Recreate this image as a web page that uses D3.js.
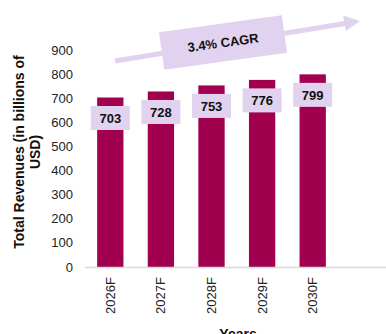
<!DOCTYPE html>
<html>
<head>
<meta charset="utf-8">
<script src="https://cdn.jsdelivr.net/npm/d3@7"></script>
<style>
  html, body { margin: 0; padding: 0; background: #fff; }
  svg { display: block; font-family: "Liberation Sans", Arial, sans-serif; }
</style>
</head>
<body>
<svg id="chart" width="386" height="334"></svg>
<script>
// Forecast revenue by year
const years = ["2026F", "2027F", "2028F", "2029F", "2030F"];
const revenues = [703, 728, 753, 776, 799];
const yTicks = [0, 100, 200, 300, 400, 500, 600, 700, 800, 900];
const cagrLabel = "3.4% CAGR";
const yTitleLines = ["Total Revenues (in billions of", "USD)"];
const xTitle = "Years";

const barColor = "#A1004F";
const tagColor = "#E1D2EF";

const svg = d3.select("#chart");

const x = d3.scaleBand().domain(years).range([85, 338]).paddingInner(0.48).paddingOuter(0.24);
const y = d3.scaleLinear().domain([0, 900]).range([267, 50]);

// y tick labels
svg.append("g").selectAll("text").data(yTicks).join("text")
  .attr("x", 73).attr("y", d => y(d)).attr("dy", "0.35em")
  .attr("text-anchor", "end").attr("font-size", 13).attr("fill", "#222")
  .text(d => d);

// bars
svg.append("g").selectAll("rect").data(revenues).join("rect")
  .attr("x", (d, i) => x(years[i])).attr("width", x.bandwidth())
  .attr("y", d => y(d)).attr("height", d => y(0) - y(d))
  .attr("fill", barColor);

// baseline
svg.append("line").attr("x1", 85).attr("x2", 386).attr("y1", y(0) + 0.5).attr("y2", y(0) + 0.5)
  .attr("stroke", "#d9d9d9").attr("stroke-width", 1.5);

// value tags
const tags = svg.append("g").selectAll("g").data(revenues).join("g")
  .attr("transform", (d, i) => `translate(${x(years[i]) + x.bandwidth() / 2},${y(d) + 8.5})`);
tags.append("rect").attr("x", -19.5).attr("y", 0).attr("width", 39).attr("height", 24).attr("fill", tagColor);
tags.append("text").attr("y", 12).attr("dy", "0.36em").attr("text-anchor", "middle")
  .attr("font-size", 13).attr("font-weight", "bold").attr("fill", "#111").text(d => d);

// x tick labels (rotated)
svg.append("g").selectAll("text").data(years).join("text")
  .attr("transform", d => `translate(${x(d) + x.bandwidth() / 2 + 4.5},277) rotate(-90)`)
  .attr("text-anchor", "end").attr("font-size", 13).attr("fill", "#222")
  .text(d => d);

// axis titles
svg.append("text").attr("transform", "translate(24,152) rotate(-90)")
  .attr("text-anchor", "middle").attr("font-size", 14).attr("font-weight", "bold").attr("fill", "#111")
  .selectAll("tspan").data(yTitleLines).join("tspan")
  .attr("x", 0).attr("dy", (d, i) => i === 0 ? 0 : 15.5).text(d => d);

svg.append("text").attr("x", 238).attr("y", 339).attr("text-anchor", "middle")
  .attr("font-size", 14).attr("font-weight", "bold").attr("fill", "#111").text(xTitle);

// CAGR arrow
const a0 = [115, 61], a1 = [345, 23.5];
svg.append("line").attr("x1", a0[0]).attr("y1", a0[1]).attr("x2", a1[0]).attr("y2", a1[1])
  .attr("stroke", tagColor).attr("stroke-width", 5);
svg.append("path").attr("d", "M343,15.5 L360,21 L346,31 Z").attr("fill", tagColor);

const cagr = svg.append("g").attr("transform", "translate(223,42.5) rotate(-7.9)");
cagr.append("rect").attr("x", -62).attr("y", -19).attr("width", 124).attr("height", 38).attr("fill", tagColor);
cagr.append("text").attr("text-anchor", "middle").attr("dy", "0.36em")
  .attr("font-size", 13).attr("font-weight", "bold").attr("fill", "#111").text(cagrLabel);
</script>
</body>
</html>
